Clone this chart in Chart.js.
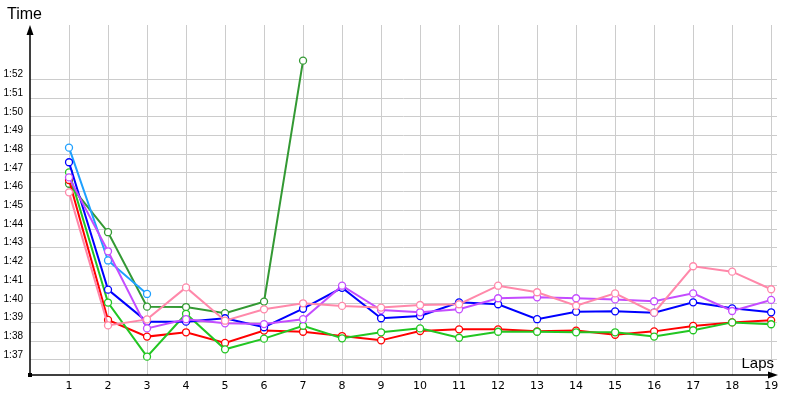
<!DOCTYPE html>
<html>
<head>
<meta charset="utf-8">
<script src="https://cdn.jsdelivr.net/npm/chart.js@4/dist/chart.umd.min.js"></script>
<style>
  html, body { margin: 0; padding: 0; background: #fff; }
  #wrap { width: 800px; height: 400px; }
</style>
</head>
<body>
<div id="wrap"><canvas id="chart_laps" width="800" height="400"></canvas></div>
<script>
// lap numbers and time ticks (seconds)
const laps = [1,2,3,4,5,6,7,8,9,10,11,12,13,14,15,16,17,18,19];
const timeTicks = [97,98,99,100,101,102,103,104,105,106,107,108,109,110,111,112];

// lap times in seconds
const lightBlue = [108.35, 102.32, 100.53];
const darkGreen = [106.42, 103.83, 99.85, 99.83, 99.50, 100.12, 113.0];
const blue = [107.57, 100.76, 99.05, 99.05, 99.23, 98.75, 99.74, 100.86, 99.23, 99.35, 100.08, 99.98, 99.18, 99.58, 99.60, 99.53, 100.08, 99.76, 99.55];
const green = [107.03, 100.07, 97.18, 99.47, 97.57, 98.14, 98.83, 98.16, 98.48, 98.69, 98.19, 98.51, 98.51, 98.48, 98.48, 98.25, 98.59, 99.01, 98.91];
const red = [106.62, 99.14, 98.25, 98.48, 97.91, 98.57, 98.51, 98.28, 98.05, 98.55, 98.64, 98.64, 98.53, 98.57, 98.35, 98.53, 98.82, 99.01, 99.12];
const magenta = [106.76, 102.81, 98.69, 99.18, 98.96, 98.92, 99.18, 100.97, 99.67, 99.55, 99.71, 100.30, 100.35, 100.30, 100.24, 100.14, 100.56, 99.62, 100.21];
const pink = [105.96, 98.85, 99.17, 100.88, 99.10, 99.71, 100.03, 99.89, 99.80, 99.94, 99.98, 100.97, 100.62, 99.90, 100.56, 99.53, 102.01, 101.72, 100.78];

function pts(vals){
	return vals.map(function(v,i){ return {x: laps[i], y: v}; });
}

function serie(vals, color){
	return {
		data: pts(vals),
		borderColor: color,
		backgroundColor: '#ffffff',
		pointBackgroundColor: '#ffffff',
		pointBorderColor: color,
		pointBorderWidth: 1.3,
		pointRadius: 3.5,
		borderWidth: 2,
		tension: 0
	};
}

function fmt(v){
	var m = Math.floor(v/60);
	var s = Math.round(v - m*60);
	return m + ':' + (s < 10 ? '0' : '') + s;
}

/* axes with arrows + titles */
var axesPlugin = {
	id: 'axesArrows',
	afterDraw: function(chart){
		var c = chart.ctx, a = chart.chartArea;
		c.save();
		c.strokeStyle = '#000';
		c.fillStyle = '#000';
		c.lineWidth = 1.5;
		c.beginPath();
		c.moveTo(a.left, a.bottom);
		c.lineTo(a.left, a.top + 4);
		c.moveTo(a.left, a.bottom);
		c.lineTo(a.right - 4, a.bottom);
		c.stroke();
		// arrow up
		c.beginPath();
		c.moveTo(a.left, a.top);
		c.lineTo(a.left - 3.5, a.top + 10);
		c.lineTo(a.left + 3.5, a.top + 10);
		c.closePath();
		c.fill();
		// arrow right
		c.beginPath();
		c.moveTo(a.right + 1, a.bottom);
		c.lineTo(a.right - 9, a.bottom - 3.5);
		c.lineTo(a.right - 9, a.bottom + 3.5);
		c.closePath();
		c.fill();
		// origin square
		c.fillRect(a.left - 2, a.bottom - 2, 4, 4);
		// titles
		c.font = '16px "Liberation Sans", Arial, sans-serif';
		c.textBaseline = 'middle';
		c.textAlign = 'left';
		c.fillText('Time', 7, 15);
		c.font = '15px "Liberation Sans", Arial, sans-serif';
		c.textAlign = 'right';
		c.fillText('Laps', 774, 364);
		c.restore();
	}
};

var ctx = document.getElementById('chart_laps').getContext('2d');
var myChart = new Chart(ctx, {
	type: 'line',
	data: {
		datasets: [
			serie(pink, '#ff88aa'),
			serie(magenta, '#c44cff'),
			serie(blue, '#0000ff'),
			serie(lightBlue, '#1ea0ff'),
			serie(green, '#22c622'),
			serie(red, '#ff0000'),
			serie(darkGreen, '#339933')
		]
	},
	options: {
		responsive: false,
		animation: false,
		devicePixelRatio: 1,
		layout: { padding: { top: 25, right: 23, left: 0, bottom: 0 } },
		plugins: {
			legend: { display: false },
			tooltip: { enabled: false }
		},
		scales: {
			x: {
				type: 'linear',
				min: 0,
				max: 19.15,
				afterBuildTicks: function(scale){
					scale.ticks = laps.map(function(l){ return {value: l}; });
				},
				afterFit: function(scale){ scale.height = 25; },
				grid: { color: '#cccccc', lineWidth: 1, drawTicks: false },
				border: { display: false },
				ticks: {
					padding: 5,
					maxRotation: 0,
					autoSkip: false,
					color: '#000',
					font: { family: '"DejaVu Sans", sans-serif', size: 11 }
				}
			},
			y: {
				type: 'linear',
				min: 96.198,
				max: 114.905,
				afterBuildTicks: function(scale){
					scale.ticks = timeTicks.map(function(t){ return {value: t}; });
				},
				afterFit: function(scale){ scale.width = 30; },
				grid: { color: '#cccccc', lineWidth: 1, drawTicks: false },
				border: { display: false },
				ticks: {
					padding: 7,
					labelOffset: -5,
					color: '#000',
					font: { family: '"Liberation Sans", Arial, sans-serif', size: 10 },
					callback: function(v){ return fmt(v); }
				}
			}
		}
	},
	plugins: [axesPlugin]
});
</script>
</body>
</html>
